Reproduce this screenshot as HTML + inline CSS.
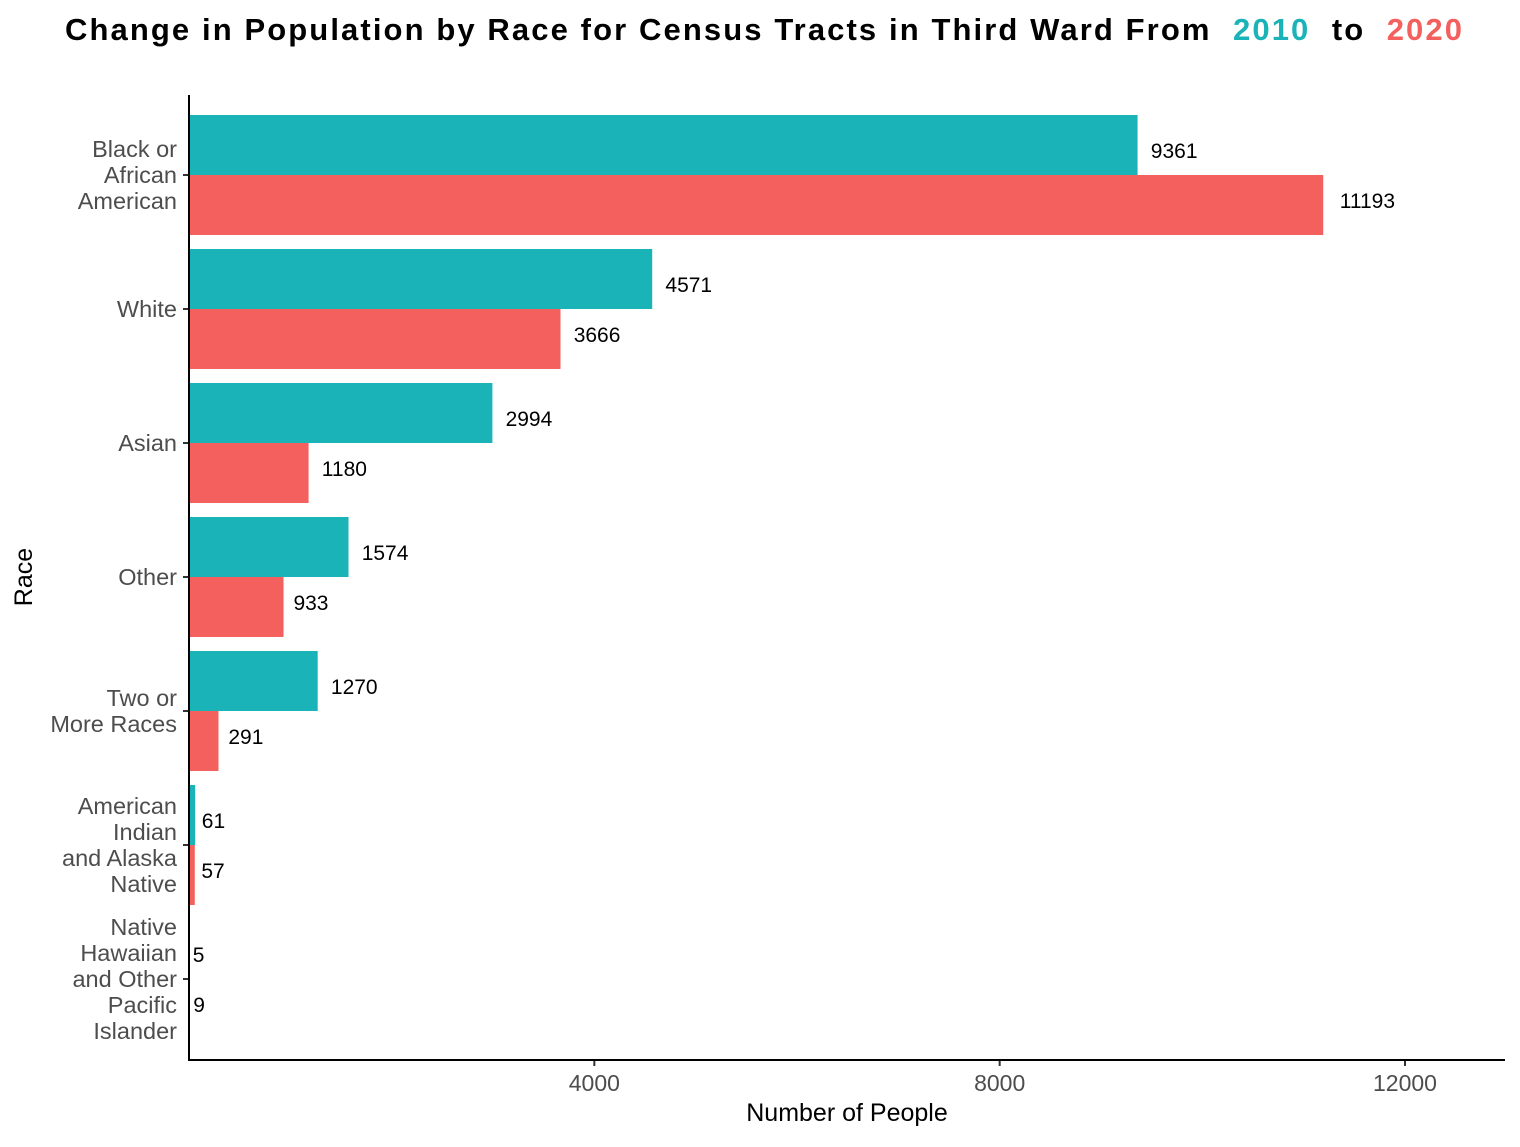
<!DOCTYPE html>
<html><head><meta charset="utf-8"><style>
body{margin:0;background:#fff;font-family:"Liberation Sans",Arial,sans-serif;}
</style></head><body>
<svg width="1520" height="1142" xmlns="http://www.w3.org/2000/svg" font-family="Liberation Sans, Arial, sans-serif">
<text x="65" y="40" text-anchor="start" font-size="31" font-weight="bold" xml:space="preserve" textLength="1397" lengthAdjust="spacing">Change in Population by Race for Census Tracts in Third Ward From  <tspan fill="#1AB3B7">2010</tspan>  to  <tspan fill="#F3605D">2020</tspan></text>
<g id="plot"></g>
<text x="847" y="1121" text-anchor="middle" font-size="25">Number of People</text>
<text transform="translate(32,577) rotate(-90)" text-anchor="middle" font-size="25">Race</text>
</svg>
<script>
const categories=[["Black or","African","American"],["White"],["Asian"],["Other"],["Two or","More Races"],["American","Indian","and Alaska","Native"],["Native","Hawaiian","and Other","Pacific","Islander"]];
const values2010=[9361,4571,2994,1574,1270,61,5];
const values2020=[11193,3666,1180,933,291,57,9];
const xTicks=[4000,8000,12000];
const NS="http://www.w3.org/2000/svg";
const g=document.getElementById('plot');
const x0=189, pxPer=(1405-189)/12000;
const xs=v=>x0+v*pxPer;
const ys=i=>175+i*134;
function el(t,a,p){const e=document.createElementNS(NS,t);for(const k in a)e.setAttribute(k,a[k]);(p||g).appendChild(e);return e;}
const off=v=>3.3*String(v).length;
categories.forEach((c,i)=>{
  const cy=ys(i);
  const b1=el('rect',{x:x0,y:cy-60,width:xs(values2010[i])-x0,height:60,fill:'#1AB3B7'});
  
  
  const b2=el('rect',{x:x0,y:cy,width:xs(values2020[i])-x0,height:60,fill:'#F3605D'});
  
  
  const l1=el('text',{x:xs(values2010[i])+off(values2010[i]),y:cy-17,'font-size':21});l1.textContent=values2010[i];
  
  
  const l2=el('text',{x:xs(values2020[i])+off(values2020[i]),y:cy+33,'font-size':21});l2.textContent=values2020[i];
  
  
  el('line',{x1:183,x2:189,y1:cy,y2:cy,stroke:'#333','stroke-width':2});
  const n=c.length, lh=26;
  const t=el('text',{'font-size':23.5,fill:'#4d4d4d','text-anchor':'end'});
  
  
  c.forEach((s,j)=>{const sp=el('tspan',{x:177,y:cy+8+(j-(n-1)/2)*lh},t);sp.textContent=s;});
});
xTicks.forEach(v=>{
  el('line',{x1:xs(v),x2:xs(v),y1:1060,y2:1066,stroke:'#333','stroke-width':2});
  const t=el('text',{x:xs(v),y:1091,'font-size':23,fill:'#4d4d4d','text-anchor':'middle'});t.textContent=v;
  
  
});
const ax=el('line',{x1:189,x2:189,y1:95,y2:1061,stroke:'#000','stroke-width':2});


const bx=el('line',{x1:188,x2:1505,y1:1060,y2:1060,stroke:'#000','stroke-width':2});


</script>
</body></html>
